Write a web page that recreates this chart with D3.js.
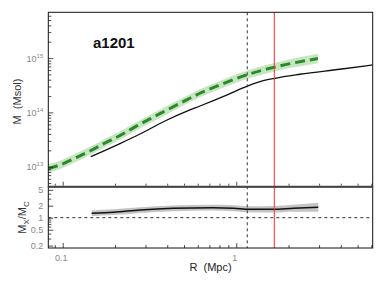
<!DOCTYPE html>
<html>
<head>
<meta charset="utf-8">
<script src="https://cdn.jsdelivr.net/npm/d3@7"></script>
<style>
  body { margin: 0; background: #fff; }
  svg { display: block; font-family: "Liberation Sans", Arial, sans-serif; }
</style>
</head>
<body>
<svg id="chart" width="385" height="289"></svg>
<script>
// green (dashed) profile with its band
const greenR  = [0.0823, 0.0965, 0.1177, 0.1437, 0.1752, 0.2138, 0.2609, 0.3184, 0.3885, 0.4738, 0.6178, 0.8056, 1.148, 1.709, 2.955];
const greenM  = [9.3e12, 1.08e13, 1.44e13, 1.95e13, 2.73e13, 3.75e13, 5.4e13, 7.6e13, 1.06e14, 1.47e14, 2.25e14, 3.2e14, 4.9e14, 6.95e14, 9.8e14];
const greenLo = [7.8e12, 9.1e12, 1.21e13, 1.64e13, 2.3e13, 3.15e13, 4.55e13, 6.4e13, 8.9e13, 1.24e14, 1.89e14, 2.69e14, 4.1e14, 5.8e14, 8.0e14];
const greenHi = [1.11e13, 1.29e13, 1.71e13, 2.32e13, 3.25e13, 4.45e13, 6.4e13, 9.0e13, 1.26e14, 1.75e14, 2.68e14, 3.8e14, 5.85e14, 8.3e14, 1.2e15];

// black profile
const blackR = [0.145, 0.2138, 0.2788, 0.3885, 0.5413, 0.6178, 0.880, 1.148, 1.37, 1.671, 2.327, 3.957, 6.108];
const blackM = [1.53e13, 2.67e13, 4.0e13, 6.95e13, 1.11e14, 1.31e14, 2.08e14, 3.0e14, 3.67e14, 4.24e14, 5.03e14, 6.22e14, 7.46e14];

// ratio panel
const ratioR  = [0.1468, 0.1957, 0.2788, 0.4337, 0.737, 0.961, 1.199, 1.633, 2.13, 2.968];
const ratio   = [1.29, 1.37, 1.56, 1.72, 1.78, 1.73, 1.62, 1.62, 1.72, 1.82];
const ratioLo = [1.09, 1.16, 1.32, 1.46, 1.51, 1.46, 1.36, 1.34, 1.40, 1.40];
const ratioHi = [1.52, 1.62, 1.84, 2.03, 2.10, 2.05, 1.93, 1.96, 2.12, 2.38];

// vertical markers
const rDashed = 1.157;
const rRed = 1.656;

// ticks
const xMajor = [0.1, 1];
const xLabels = ['0.1', '1'];
const xMinor = [0.09, 0.2, 0.3, 0.4, 0.5, 0.6, 0.7, 0.8, 0.9, 2, 3, 4, 5, 6];
const mMajor = [1e13, 1e14, 1e15];
const mExp = ['13', '14', '15'];
const rMajor = [0.2, 0.5, 1, 2, 5];
const rLabels = ['0.2', '0.5', '1', '2', '5'];
const rMinor = [0.3, 0.4, 0.6, 0.7, 0.8, 0.9, 3, 4];

const svg = d3.select('#chart');
const pLeft = 48.3, pRight = 372.7, pTop = 12.3, pMid = 186.7, pBottom = 248;

const x = d3.scaleLog().domain([0.0826, 6.11]).range([pLeft, pRight]);
const yM = d3.scaleLog().domain([4.29e12, 6.95e15]).range([pMid, pTop]);
const yR = d3.scaleLog().domain([0.174, 5.98]).range([pBottom, pMid]);

const mMinor = [1e12, 1e13, 1e14, 1e15]
  .flatMap(d => [2, 3, 4, 5, 6, 7, 8, 9].map(k => d * k))
  .filter(v => v > 4.29e12 && v < 6.95e15);

const defs = svg.append('defs');
defs.append('clipPath').attr('id', 'clipTop')
  .append('rect').attr('x', pLeft).attr('y', pTop).attr('width', pRight - pLeft).attr('height', pMid - pTop);
defs.append('clipPath').attr('id', 'clipBot')
  .append('rect').attr('x', pLeft).attr('y', pMid).attr('width', pRight - pLeft).attr('height', pBottom - pMid);

// ---- top panel ----
const topG = svg.append('g').attr('clip-path', 'url(#clipTop)');
const green = greenR.map((r, i) => ({ r, m: greenM[i], lo: greenLo[i], hi: greenHi[i] }));
const black = blackR.map((r, i) => ({ r, m: blackM[i] }));

topG.append('path')
  .datum(green)
  .attr('fill', '#c6e5c1')
  .attr('d', d3.area().x(d => x(d.r)).y0(d => yM(d.lo)).y1(d => yM(d.hi)).curve(d3.curveMonotoneX));

topG.append('path')
  .datum(black)
  .attr('fill', 'none')
  .attr('stroke', '#111')
  .attr('stroke-width', 1.3)
  .attr('d', d3.line().x(d => x(d.r)).y(d => yM(d.m)).curve(d3.curveMonotoneX));

topG.append('path')
  .datum(green)
  .attr('fill', 'none')
  .attr('stroke', '#2a8a2a')
  .attr('stroke-width', 3)
  .attr('stroke-dasharray', '10,5')
  .attr('d', d3.line().x(d => x(d.r)).y(d => yM(d.m)).curve(d3.curveMonotoneX));

// ---- bottom panel ----
const botG = svg.append('g').attr('clip-path', 'url(#clipBot)');
const rat = ratioR.map((r, i) => ({ r, v: ratio[i], lo: ratioLo[i], hi: ratioHi[i] }));

botG.append('path')
  .datum(rat)
  .attr('fill', '#c4c4c4')
  .attr('d', d3.area().x(d => x(d.r)).y0(d => yR(d.lo)).y1(d => yR(d.hi)).curve(d3.curveMonotoneX));

botG.append('path')
  .datum(rat)
  .attr('fill', 'none')
  .attr('stroke', '#111')
  .attr('stroke-width', 1.5)
  .attr('d', d3.line().x(d => x(d.r)).y(d => yR(d.v)).curve(d3.curveMonotoneX));

botG.append('line')
  .attr('x1', pLeft).attr('x2', pRight)
  .attr('y1', yR(1)).attr('y2', yR(1))
  .attr('stroke', '#333').attr('stroke-width', 1).attr('stroke-dasharray', '3,3');

// ---- vertical markers across both panels ----
svg.append('line')
  .attr('x1', x(rDashed)).attr('x2', x(rDashed))
  .attr('y1', pTop).attr('y2', pBottom)
  .attr('stroke', '#333').attr('stroke-width', 1).attr('stroke-dasharray', '3,3');

svg.append('line')
  .attr('x1', x(rRed)).attr('x2', x(rRed))
  .attr('y1', pTop).attr('y2', pBottom)
  .attr('stroke', '#ff2a2a').attr('stroke-width', 1);

// ---- axes (inward ticks) ----
function ticks(axis, values, size, transform) {
  const g = svg.append('g')
    .attr('transform', transform)
    .attr('color', '#222')
    .call(axis.tickValues(values).tickSize(-size).tickFormat(''));
  g.select('.domain').remove();
  g.selectAll('line').attr('stroke-width', 0.8);
  return g;
}

ticks(d3.axisLeft(yM), mMajor, 5, `translate(${pLeft},0)`);
ticks(d3.axisLeft(yM), mMinor, 3, `translate(${pLeft},0)`);
ticks(d3.axisLeft(yR), rMajor, 5, `translate(${pLeft},0)`);
ticks(d3.axisLeft(yR), rMinor, 3, `translate(${pLeft},0)`);
ticks(d3.axisBottom(x), xMajor, 5, `translate(0,${pBottom})`);
ticks(d3.axisBottom(x), xMinor, 3, `translate(0,${pBottom})`);
ticks(d3.axisBottom(x), xMajor, 4, `translate(0,${pMid - 1})`);
ticks(d3.axisBottom(x), xMinor, 2, `translate(0,${pMid - 1})`);

// tick labels
const labG = svg.append('g').attr('fill', '#888').attr('font-size', 9);

mMajor.forEach((v, i) => {
  const t = labG.append('text')
    .attr('x', pLeft - 5)
    .attr('y', yM(v) + 3.5)
    .attr('text-anchor', 'end');
  t.append('tspan').text('10');
  t.append('tspan').attr('dy', -4).attr('font-size', 6).text(mExp[i]);
});

rMajor.forEach((v, i) => {
  labG.append('text')
    .attr('x', pLeft - 5)
    .attr('y', yR(v) + 3.2)
    .attr('text-anchor', 'end')
    .text(rLabels[i]);
});

xMajor.forEach((v, i) => {
  labG.append('text')
    .attr('x', x(v) - 1.5)
    .attr('y', 261)
    .attr('text-anchor', 'middle')
    .text(xLabels[i]);
});

// ---- frames ----
svg.append('rect')
  .attr('x', pLeft).attr('y', pTop)
  .attr('width', pRight - pLeft).attr('height', pMid - pTop)
  .attr('fill', 'none').attr('stroke', '#111').attr('stroke-width', 1);
svg.append('rect')
  .attr('x', pLeft).attr('y', pMid)
  .attr('width', pRight - pLeft).attr('height', pBottom - pMid)
  .attr('fill', 'none').attr('stroke', '#111').attr('stroke-width', 1);
svg.append('line')
  .attr('x1', pLeft).attr('x2', pRight)
  .attr('y1', pMid).attr('y2', pMid)
  .attr('stroke', '#444').attr('stroke-width', 2);

// ---- titles ----
svg.append('text')
  .attr('x', 93).attr('y', 48)
  .attr('font-size', 15).attr('font-weight', 'bold').attr('fill', '#111')
  .text('a1201');

svg.append('text')
  .attr('transform', `translate(20.5,${(pTop + pMid) / 2 + 2}) rotate(-90)`)
  .attr('text-anchor', 'middle')
  .attr('font-size', 11).attr('fill', '#333')
  .style('white-space', 'pre')
  .text('M  (Msol)');

const ratioTitle = svg.append('text')
  .attr('transform', `translate(26,217.5) rotate(-90)`)
  .attr('text-anchor', 'middle')
  .attr('font-size', 11).attr('fill', '#333');
ratioTitle.append('tspan').text('M');
ratioTitle.append('tspan').attr('dy', 2.5).attr('font-size', 8).text('X');
ratioTitle.append('tspan').attr('dy', -2.5).text('/M');
ratioTitle.append('tspan').attr('dy', 2.5).attr('font-size', 8).text('C');

svg.append('text')
  .attr('x', (pLeft + pRight) / 2).attr('y', 271)
  .attr('text-anchor', 'middle')
  .attr('font-size', 11).attr('fill', '#222')
  .style('white-space', 'pre')
  .text('R  (Mpc)');
</script>
</body>
</html>
